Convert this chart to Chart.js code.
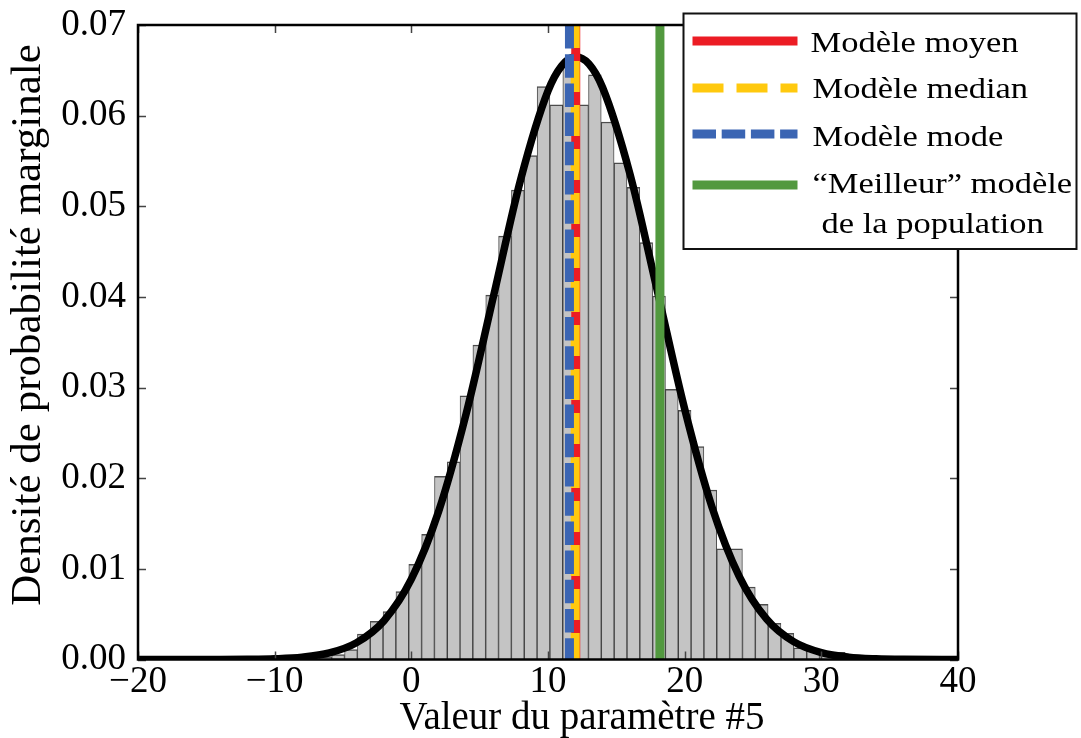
<!DOCTYPE html>
<html>
<head>
<meta charset="utf-8">
<script src="https://cdn.jsdelivr.net/npm/chart.js@4.4.0/dist/chart.umd.min.js"></script>
<style>
  html, body { margin: 0; background: #fff; }
</style>
</head>
<body>
<canvas id="chart" width="1081" height="738"></canvas>
<script>
// Histogram bins (centres and heights)
const binCenters = [-6.30, -5.36, -4.42, -3.48, -2.54, -1.60, -0.66, 0.28, 1.22, 2.16,
                    3.10, 4.03, 4.97, 5.91, 6.85, 7.79, 8.73, 9.67, 10.61, 11.55,
                    12.49, 13.43, 14.37, 15.31, 16.25, 17.19, 18.13, 19.06, 20.00, 20.94,
                    21.88, 22.82, 23.76, 24.70, 25.64, 26.58, 27.52, 28.46, 29.40, 30.34, 31.28];
const binHeights = [0.0003, 0.00055, 0.0011, 0.0028, 0.0042, 0.0053, 0.0075, 0.0105, 0.0138, 0.0202,
                    0.0218, 0.0291, 0.0347, 0.0402, 0.0467, 0.0518, 0.0556, 0.0632, 0.0612, 0.0660,
                    0.0612, 0.0645, 0.0593, 0.0548, 0.0521, 0.0460, 0.0401, 0.0298, 0.0275, 0.0235,
                    0.0187, 0.0122, 0.0122, 0.0080, 0.0061, 0.0040, 0.0029, 0.0013, 0.0011, 0.0008, 0.0008];

// Fitted density curve
const curveX = [-20, -14, -12, -10, -8, -6, -4, -2, 0, 2, 4, 6, 8, 10, 11, 12, 13, 14, 16, 18,
                20, 22, 24, 26, 28, 30, 32, 34, 36, 40];
const curveY = [0, 0, 0.00002, 0.00008, 0.00025, 0.00072, 0.00186, 0.00428, 0.00886, 0.01635,
                0.02704, 0.0400, 0.05296, 0.06273, 0.0655, 0.0665, 0.0657, 0.06308, 0.05355, 0.04067,
                0.02764, 0.01682, 0.00915, 0.00445, 0.00194, 0.00076, 0.00026, 0.00008, 0.00002, 0];

// Reference models (x positions)
const modelNames = ['Modèle moyen', 'Modèle median', 'Modèle mode', '“Meilleur” modèle'];
const modelValues = [12.03, 11.99, 11.57, 18.19];
const modelColors = ['#ec1c24', '#ffc90e', '#3b65b3', '#52993f'];
const modelDashes = [[], [31, 13], [23.5, 5.7], []];

const xTickValues = [-20, -10, 0, 10, 20, 30, 40];
const yTickValues = [0, 0.01, 0.02, 0.03, 0.04, 0.05, 0.06, 0.07];

const yMin = 0, yMax = 0.07;
const serif = '"Liberation Serif", "DejaVu Serif", serif';

const modelDatasets = modelValues.map((v, i) => ({
    type: 'line',
    label: modelNames[i],
    data: [{ x: v, y: yMax }, { x: v, y: yMin }],
    borderColor: modelColors[i],
    borderWidth: 9,
    borderDash: modelDashes[i],
    borderDashOffset: i === 1 ? 8 : 0,
    borderCapStyle: 'butt',
    pointRadius: 0,
    fill: false,
    order: 4 - i
}));

const decorPlugin = {
    id: 'decor',
    afterDraw: (chart) => {
        const { ctx, chartArea: a, scales } = chart;
        const x = scales.x, y = scales.y;
        ctx.save();

        // inward tick marks on all four sides
        ctx.strokeStyle = '#444';
        ctx.lineWidth = 1.5;
        ctx.beginPath();
        xTickValues.forEach(v => {
            const px = Math.round(x.getPixelForValue(v)) + 0.5;
            ctx.moveTo(px, a.bottom); ctx.lineTo(px, a.bottom - 8);
            ctx.moveTo(px, a.top); ctx.lineTo(px, a.top + 8);
        });
        yTickValues.forEach(v => {
            const py = Math.round(y.getPixelForValue(v)) + 0.5;
            ctx.moveTo(a.left, py); ctx.lineTo(a.left + 8, py);
            ctx.moveTo(a.right, py); ctx.lineTo(a.right - 8, py);
        });
        ctx.stroke();

        // frame
        ctx.strokeStyle = '#000';
        ctx.lineWidth = 2.5;
        ctx.strokeRect(a.left, a.top, a.right - a.left, a.bottom - a.top);

        // legend box
        const box = { l: 683.5, t: 13.5, r: 1076.5, b: 249 };
        ctx.fillStyle = '#fff';
        ctx.fillRect(box.l, box.t, box.r - box.l, box.b - box.t);
        ctx.lineWidth = 2;
        ctx.strokeStyle = '#111';
        ctx.strokeRect(box.l, box.t, box.r - box.l, box.b - box.t);

        const rowsY = [41, 88, 134, 185];
        const baseY = [51.5, 98, 145.5, 193];
        rowsY.forEach((ry, i) => {
            ctx.beginPath();
            ctx.strokeStyle = modelColors[i];
            ctx.lineWidth = 9;
            ctx.lineCap = 'butt';
            ctx.setLineDash(modelDashes[i]);
            ctx.moveTo(692.5, ry);
            ctx.lineTo(797.5, ry);
            ctx.stroke();
        });
        ctx.setLineDash([]);

        ctx.fillStyle = '#000';
        ctx.font = '29px ' + serif;
        ctx.textAlign = 'left';
        ctx.textBaseline = 'alphabetic';
        const drawStretched = (txt, tx, ty) => {
            ctx.save();
            ctx.translate(tx, ty);
            ctx.scale(1.19, 1);
            ctx.fillText(txt, 0, 0);
            ctx.restore();
        };
        modelNames.forEach((n, i) => drawStretched(n, i === 0 ? 810.5 : 812.5, baseY[i]));
        drawStretched('de la population', 821.5, 232.5);

        // axis titles
        ctx.font = '39px ' + serif;
        ctx.textAlign = 'center';
        ctx.fillText('Valeur du paramètre #5', 582, 729);

        ctx.save();
        ctx.translate(40, 325);
        ctx.rotate(-Math.PI / 2);
        ctx.font = '43px ' + serif;
        ctx.fillText('Densité de probabilité marginale', 0, 0);
        ctx.restore();

        ctx.restore();
    }
};

new Chart(document.getElementById('chart'), {
    type: 'bar',
    data: {
        datasets: [
            {
                type: 'bar',
                label: 'histogram',
                data: binCenters.map((c, i) => ({ x: c, y: binHeights[i] })),
                backgroundColor: '#c4c4c4',
                borderColor: 'rgba(0,0,0,0.7)',
                borderWidth: { top: 1.5, left: 1, right: 1, bottom: 0 },
                borderSkipped: false,
                barPercentage: 1,
                categoryPercentage: 1,
                order: 10
            },
            {
                type: 'line',
                label: 'density',
                data: curveX.map((cx, i) => ({ x: cx, y: curveY[i] })),
                borderColor: '#000',
                borderWidth: 7.5,
                pointRadius: 0,
                cubicInterpolationMode: 'monotone',
                fill: false,
                order: 5
            },
            ...modelDatasets
        ]
    },
    options: {
        responsive: false,
        animation: false,
        events: [],
        layout: { padding: { top: 25, right: 123, left: 0, bottom: 0 } },
        plugins: { legend: { display: false }, tooltip: { enabled: false } },
        scales: {
            x: {
                type: 'linear',
                min: -20,
                max: 40,
                offset: false,
                grid: { display: false, drawTicks: false },
                border: { display: false },
                afterBuildTicks: (s) => { s.ticks = xTickValues.map(v => ({ value: v })); },
                afterFit: (s) => { s.height = 78.5; s.paddingLeft = 0; s.paddingRight = 0; },
                ticks: {
                    color: '#000',
                    padding: 1,
                    maxRotation: 0,
                    autoSkip: false,
                    font: { family: serif, size: 37 },
                    callback: (v) => (v < 0 ? '\u2212' + Math.abs(v) : String(v))
                }
            },
            y: {
                min: yMin,
                max: yMax,
                grid: { display: false, drawTicks: false },
                border: { display: false },
                afterBuildTicks: (s) => { s.ticks = yTickValues.map(v => ({ value: v })); },
                afterFit: (s) => { s.width = 138; s.paddingTop = 0; s.paddingBottom = 0; },
                ticks: {
                    color: '#000',
                    padding: 12,
                    autoSkip: false,
                    font: { family: serif, size: 37 },
                    callback: (v) => Number(v).toFixed(2)
                }
            }
        }
    },
    plugins: [decorPlugin]
});
</script>
</body>
</html>
